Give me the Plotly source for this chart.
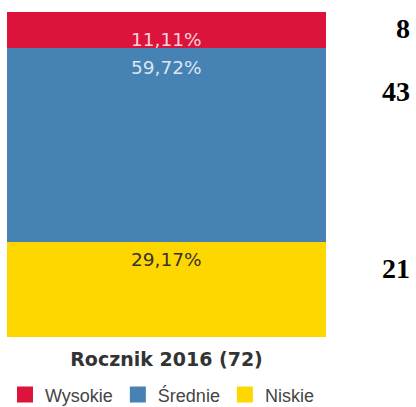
import plotly.graph_objects as go

categories = ["Rocznik 2016 (72)"]
series_names = ["Niskie", "Średnie", "Wysokie"]
series_pct = [29.17, 59.72, 11.11]
series_counts = [21, 43, 8]
colors = ["#FFD700", "#4682B4", "#DC143C"]
label_colors = ["#333333", "rgba(255,255,255,0.82)", "rgba(255,255,255,0.82)"]
label_shift = [-17, -19, -27]
count_ypaper = [0.212, 0.754, 0.948]

fig = go.Figure()
for name, val, col in zip(series_names, series_pct, colors):
    fig.add_trace(go.Bar(x=categories, y=[val], name=name, marker=dict(color=col, line=dict(width=0)),
                         hoverinfo="skip", showlegend=False))
# legend entries (square swatches)
for name, col in zip(series_names, colors):
    fig.add_trace(go.Scatter(x=[None], y=[None], mode="markers", name=name,
                             marker=dict(symbol="square", size=16, color=col), showlegend=True))

cum = 0
for i, val in enumerate(series_pct):
    cum += val
    fig.add_annotation(x=categories[0], y=cum, xref="x", yref="y",
                       text=f"{val:.2f}%".replace(".", ","), showarrow=False,
                       yanchor="middle", yshift=label_shift[i],
                       font=dict(family="DejaVu Sans", size=18.5, color=label_colors[i]))
    fig.add_annotation(x=1.27, y=count_ypaper[i], xref="paper", yref="paper",
                       text=f"<b>{series_counts[i]}</b>", showarrow=False,
                       xanchor="right", yanchor="middle",
                       font=dict(family="Liberation Serif", size=28, color="#000000"))

fig.update_layout(
    width=416, height=407,
    margin=dict(l=7, r=90, t=12, b=70, pad=0),
    barmode="stack", bargap=0,
    paper_bgcolor="white", plot_bgcolor="white",
    showlegend=True,
    legend=dict(orientation="h", traceorder="reversed", xref="container", yref="container",
                x=0.012, xanchor="left", y=0.03, yanchor="middle",
                font=dict(family="Liberation Sans", size=18, color="#444444"),
                itemclick=False, itemdoubleclick=False),
    xaxis=dict(showgrid=False, zeroline=False, showline=False, ticks="", ticklabelstandoff=9,
               tickfont=dict(family="DejaVu Sans", size=19, color="#333333", weight="bold")),
    yaxis=dict(range=[0, 100], visible=False, fixedrange=True),
)
fig.write_html("out.html", config={"displayModeBar": False},
               post_script="document.body.style.margin='0';document.body.style.overflow='hidden';")
